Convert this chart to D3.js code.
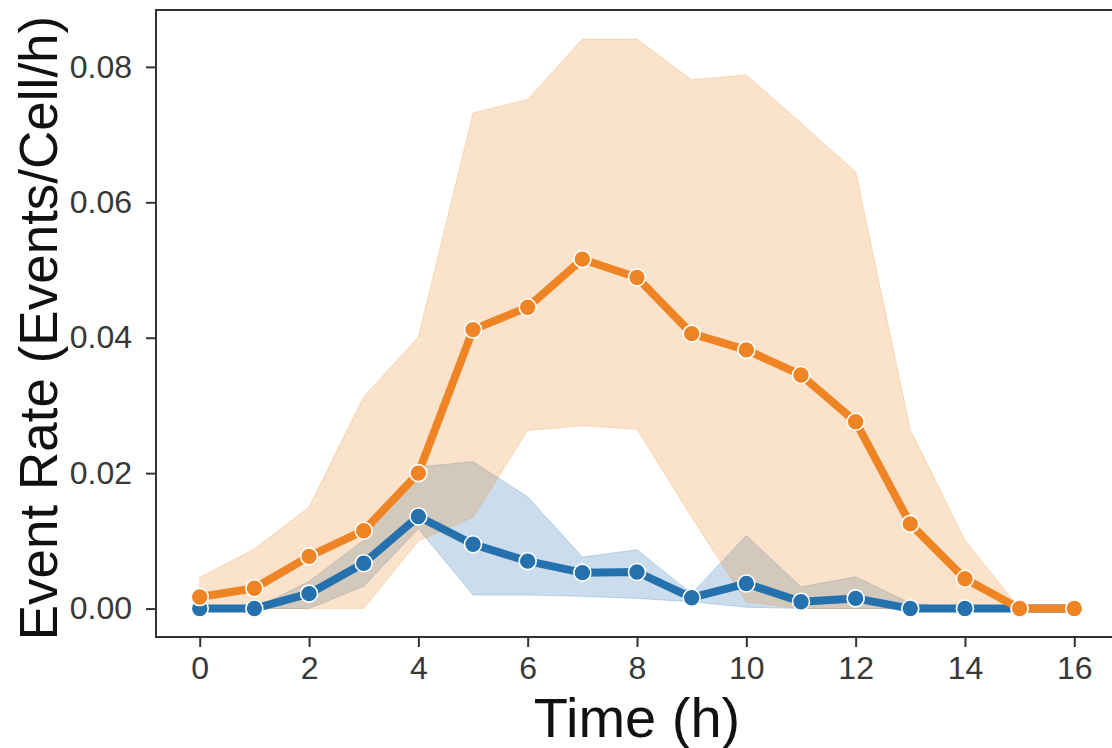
<!DOCTYPE html>
<html>
<head>
<meta charset="utf-8">
<script src="https://cdn.jsdelivr.net/npm/d3@7"></script>
<style>
  body { margin: 0; background: #fff; }
  text { font-family: "Liberation Sans", Arial, sans-serif; }
</style>
</head>
<body>
<script>
// data
const hours = [0, 1, 2, 3, 4, 5, 6, 7, 8, 9, 10, 11, 12, 13, 14, 15, 16]
const blueMean = [0, 0, 0.0022, 0.0067, 0.0136, 0.0095, 0.0070, 0.0053, 0.0054, 0.0016, 0.0037, 0.0010, 0.0015, 0, 0, 0, 0]
const blueLow = [0, 0, 0, 0.0033, 0.0118, 0.0020, 0.0020, 0.0018, 0.0015, 0.0010, 0.0002, 0, 0, 0, 0, 0, 0]
const blueHigh = [0, 0, 0.0040, 0.0101, 0.0209, 0.0217, 0.0165, 0.0076, 0.0087, 0.0022, 0.0108, 0.0032, 0.0047, 0.0008, 0, 0, 0]
const orangeMean = [0.0017, 0.0030, 0.0077, 0.0115, 0.0200, 0.0412, 0.0445, 0.0516, 0.0489, 0.0406, 0.0382, 0.0345, 0.0276, 0.0125, 0.0044, 0, 0]
const orangeLow = [0, 0, 0, 0, 0.0100, 0.0135, 0.0263, 0.0270, 0.0265, 0.0135, 0.0010, 0, 0, 0, 0, 0, 0]
const orangeHigh = [0.0046, 0.0088, 0.0150, 0.0313, 0.0401, 0.0732, 0.0752, 0.0841, 0.0841, 0.0781, 0.0788, 0.0717, 0.0645, 0.0264, 0.0101, 0, 0]
const xTicks = [0, 2, 4, 6, 8, 10, 12, 14, 16]
const yTicks = [0, 0.02, 0.04, 0.06, 0.08]

const margin = {
    top: 10,
    right: -6,
    bottom: 111,
    left: 156
}
const W = 1112, H = 748
const width = W - margin.left - margin.right
const height = H - margin.top - margin.bottom

const svg = d3.select('body')
    .append('svg')
    .attr('width', W)
    .attr('height', H)

const g = svg.append('g')
    .attr("transform", `translate(${margin.left},${margin.top})`)

const x = d3.scaleLinear()
    .domain([-0.8, 16.8])
    .range([0, width])
const y = d3.scaleLinear()
    .domain([-0.0042, 0.0884])
    .range([height, 0])

// x axis
const xAxis = g.append('g')
    .attr("transform", `translate(0, ${height})`)
    .call(d3.axisBottom(x).tickValues(xTicks).tickSize(10).tickPadding(9))
// y axis
const yAxis = g.append('g')
    .call(d3.axisLeft(y).tickValues(yTicks).tickFormat(d3.format(".2f")).tickSize(10).tickPadding(14))

for (const ax of [xAxis, yAxis]) {
    ax.select(".domain").remove()
    ax.selectAll("line").attr("stroke", "#333").attr("stroke-width", 2)
    ax.selectAll("text")
        .attr("fill", "#383838")
        .style("font-size", "32px")
        .style("font-family", '"Liberation Sans", Arial, sans-serif')
}

const series = [
    { color: "#2471ae", mean: blueMean, low: blueLow, high: blueHigh },
    { color: "#ef8424", mean: orangeMean, low: orangeLow, high: orangeHigh }
]

const area = d3.area()
    .x(d => x(d.t))
    .y0(d => y(d.lo))
    .y1(d => y(d.hi))
const line = d3.line()
    .x(d => x(d.t))
    .y(d => y(d.v))

// bands first, lines on top
series.forEach(s => {
    const rows = hours.map((t, i) => ({ t: t, lo: s.low[i], hi: s.high[i] }))
    g.append("path")
        .datum(rows)
        .attr("d", area)
        .attr("fill", s.color)
        .attr("fill-opacity", 0.24)
        .attr("stroke", s.color)
        .attr("stroke-opacity", 0.24)
        .attr("stroke-width", 1)
})

series.forEach(s => {
    const pts = hours.map((t, i) => ({ t: t, v: s.mean[i] }))
    g.append("path")
        .datum(pts)
        .attr("d", line)
        .attr("fill", "none")
        .attr("stroke", s.color)
        .attr("stroke-width", 8)
        .attr("stroke-linejoin", "round")
    g.selectAll(null)
        .data(pts)
        .join("circle")
        .attr("cx", d => x(d.t))
        .attr("cy", d => y(d.v))
        .attr("r", 8.5)
        .attr("fill", s.color)
        .attr("stroke", "white")
        .attr("stroke-width", 1.6)
})

// frame
g.append("rect")
    .attr("width", width)
    .attr("height", height)
    .attr("fill", "none")
    .attr("stroke", "#333")
    .attr("stroke-width", 2)

// axis labels
svg.append("text")
    .attr("x", 637)
    .attr("y", 737)
    .attr("text-anchor", "middle")
    .attr("fill", "#111")
    .style("font-size", "56px")
    .text("Time (h)")

svg.append("text")
    .attr("transform", "translate(57, 328) rotate(-90)")
    .attr("text-anchor", "middle")
    .attr("fill", "#111")
    .style("font-size", "53px")
    .text("Event Rate (Events/Cell/h)")
</script>
</body>
</html>
